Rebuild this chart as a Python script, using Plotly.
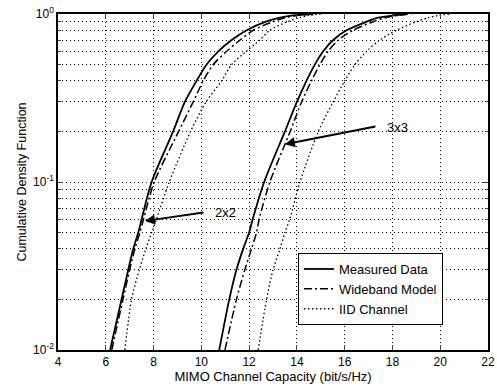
import numpy as np
import plotly.graph_objects as go

# Cumulative probability levels (shared)
cdf = [0.01, 0.02, 0.03, 0.04, 0.05, 0.06, 0.1, 0.2, 0.3, 0.4, 0.5, 0.6, 0.7, 0.8, 0.9, 0.95, 0.98, 1.0]

# 2x2 capacities (bit/s/Hz)
cap2_measured = [6.18, 6.66, 6.94, 7.15, 7.36, 7.50, 7.92, 8.82, 9.31, 9.80, 10.22, 10.71, 11.27, 11.90, 12.70, 13.30, 13.85, 14.6]
cap2_wideband = [6.25, 6.72, 7.00, 7.22, 7.43, 7.58, 8.03, 9.05, 9.66, 10.08, 10.50, 11.06, 11.62, 12.17, 13.00, 13.50, 14.00, 14.7]
cap2_iid = [6.80, 7.08, 7.40, 7.68, 7.92, 8.12, 8.66, 9.55, 10.20, 10.85, 11.27, 11.88, 12.45, 12.87, 13.60, 14.10, 14.50, 15.0]

# 3x3 capacities (bit/s/Hz)
cap3_measured = [10.75, 11.17, 11.47, 11.75, 12.00, 12.15, 12.63, 13.50, 14.00, 14.40, 14.75, 15.10, 15.52, 16.08, 16.92, 17.40, 18.00, 18.6]
cap3_wideband = [10.99, 11.47, 11.82, 12.10, 12.31, 12.42, 12.87, 13.72, 14.20, 14.61, 14.96, 15.31, 15.73, 16.36, 17.19, 17.70, 18.20, 18.8]
cap3_iid = [12.38, 12.73, 13.00, 13.29, 13.50, 13.70, 14.13, 14.90, 15.52, 16.00, 16.43, 16.92, 17.47, 18.17, 19.00, 19.50, 19.90, 20.4]

series_names = ["Measured Data", "Wideband Model", "IID Channel"]
x_ticks = [4, 6, 8, 10, 12, 14, 16, 18, 20, 22]
y_ticks = [0.01, 0.1, 1]
y_ticktext = ["10<sup>-2</sup>", "10<sup>-1</sup>", "10<sup>0</sup>"]
y_minor = [m * d for d in (0.01, 0.1) for m in range(2, 10)]

# annotations: (label, text_x, text_y, tail_x, tail_y, head_x, head_y)
ann_2x2 = ("2x2", 11.03, 0.066, 10.15, 0.066, 7.64, 0.0586)
ann_3x3 = ("3x3", 18.23, 0.21, 17.35, 0.215, 13.5, 0.168)

styles = [dict(dash="solid", width=1.8), dict(dash="8px,3px,2px,3px", width=1.5), dict(dash="1.5px,2.5px", width=1.3)]
GRID_DASH = "1px,3px"

fig = go.Figure()
for i, (c2, c3) in enumerate([(cap2_measured, cap3_measured), (cap2_wideband, cap3_wideband), (cap2_iid, cap3_iid)]):
    fig.add_trace(go.Scatter(x=c2, y=cdf, mode="lines", name=series_names[i],
                             line=dict(color="black", shape="spline", smoothing=0.8, **styles[i]),
                             legendgroup=str(i)))
    fig.add_trace(go.Scatter(x=c3, y=cdf, mode="lines", name=series_names[i], showlegend=False,
                             line=dict(color="black", shape="spline", smoothing=0.8, **styles[i]),
                             legendgroup=str(i)))

for label, tx, ty, ax_, ay_, hx, hy in (ann_2x2, ann_3x3):
    fig.add_annotation(x=hx, y=np.log10(hy), ax=ax_, ay=np.log10(ay_), axref="x", ayref="y",
                       xref="x", yref="y", text="", showarrow=True, arrowhead=2,
                       arrowsize=1, arrowwidth=2, arrowcolor="black")
    fig.add_annotation(x=tx, y=np.log10(ty), xref="x", yref="y", text=label, showarrow=False,
                       font=dict(size=13, color="black"))

fig.update_xaxes(range=[4, 22], tickvals=x_ticks, ticks="inside", ticklen=5,
                 showline=True, mirror="ticks", linecolor="black", linewidth=1.5,
                 showgrid=True, gridcolor="black", griddash=GRID_DASH, gridwidth=1,
                 zeroline=False, tickfont=dict(size=12, color="black"), automargin=False,
                 ticklabeloverflow="allow",
                 title=dict(text="MIMO Channel Capacity (bit/s/Hz)", font=dict(size=13, color="black"), standoff=0))
fig.update_yaxes(type="log", range=[-2, 0], tickvals=y_ticks, ticktext=y_ticktext, ticks="inside", ticklen=5,
                 showline=True, mirror="ticks", linecolor="black", linewidth=1.5,
                 showgrid=True, gridcolor="black", griddash=GRID_DASH, gridwidth=1,
                 minor=dict(tickvals=y_minor, showgrid=True, gridcolor="black", griddash=GRID_DASH,
                            gridwidth=1, ticks="inside", ticklen=3),
                 zeroline=False, tickfont=dict(size=12, color="black"), automargin=False,
                 ticklabeloverflow="allow",
                 title=dict(text="Cumulative Density Function", font=dict(size=12.5, color="black"), standoff=4))

fig.update_layout(
    width=497, height=387,
    margin=dict(l=58, r=9, t=14, b=37),
    plot_bgcolor="white", paper_bgcolor="white",
    font=dict(family="Liberation Sans, Arial, sans-serif", color="black"),
    legend=dict(x=0.558, y=0.1815, xanchor="left", yanchor="middle",
                bordercolor="black", borderwidth=1, bgcolor="white",
                font=dict(size=13, color="black"), itemwidth=30, tracegroupgap=0),
    showlegend=True,
)

# remove the default page margin so the figure sits at the window's top-left corner
fig.write_html("out.html", config={"displayModeBar": False},
               post_script="document.body.style.margin='0';")
